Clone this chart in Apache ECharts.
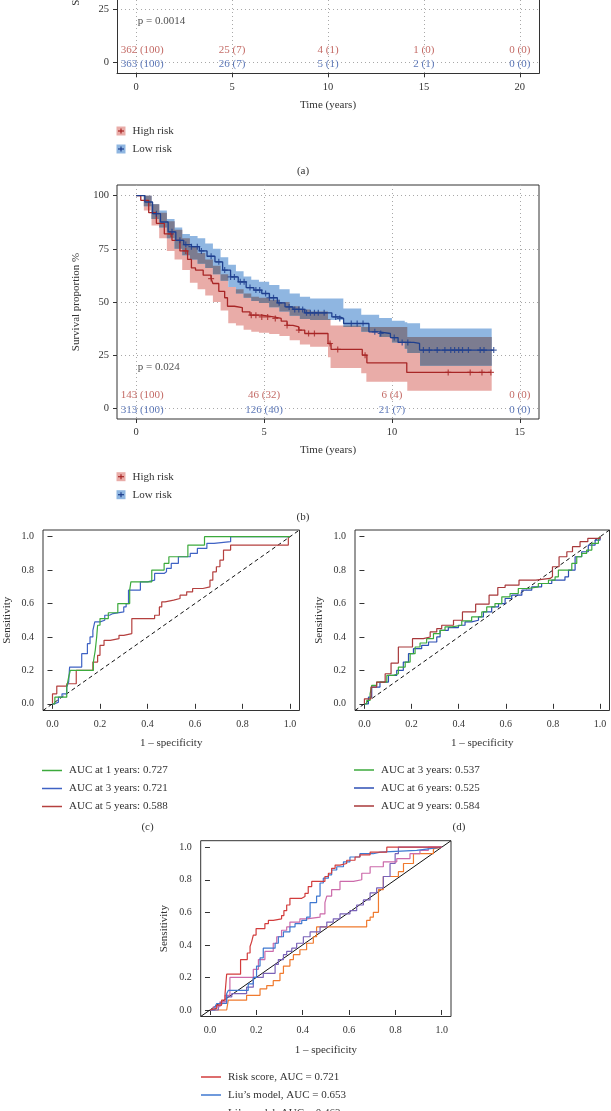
<!DOCTYPE html>
<html><head><meta charset="utf-8">
<script src="https://cdn.jsdelivr.net/npm/echarts@6/dist/echarts.min.js"></script>
<style>html,body{margin:0;padding:0;background:#fff}#c{width:611px;height:1111px}</style>
</head><body><div id="c"></div>
<script>
// ================= DATA =================
// Panel (a) KM
const kmA_ticksX = [0, 5, 10, 15, 20];
const km_ticksY = [0, 25, 50, 75, 100];
const kmA_riskTimes = [0, 5, 10, 15, 20];
const kmA_highN = [362, 25, 4, 1, 0];
const kmA_highPct = [100, 7, 1, 0, 0];
const kmA_lowN = [363, 26, 5, 2, 0];
const kmA_lowPct = [100, 7, 1, 1, 0];
const kmA_p = 'p = 0.0014';

// Panel (b) KM
const kmB_ticksX = [0, 5, 10, 15];
const kmB_riskTimes = [0, 5, 10, 15];
const kmB_highN = [143, 46, 6, 0];
const kmB_highPct = [100, 32, 4, 0];
const kmB_lowN = [313, 126, 21, 0];
const kmB_lowPct = [100, 40, 7, 0];
const kmB_p = 'p = 0.024';

const kmB_highT = [0, 0.18, 0.49, 0.79, 1.1, 1.4, 1.71, 2.01, 2.16, 2.32, 2.62, 2.93, 3.0, 3.23, 3.46, 3.57, 3.84, 4.15, 4.45, 4.91, 5.37, 5.67, 5.9, 6.13, 6.36, 6.59, 7.5, 7.62, 8.84, 9.02, 10.58, 13.87];
const kmB_highS = [100, 97.8, 92, 87, 82, 79, 74, 70, 66, 65, 62.6, 61, 58.7, 55, 52, 48, 47.4, 45.4, 43.8, 43, 42.3, 41, 39, 38.3, 36.8, 35.2, 30.5, 27.7, 25, 21.4, 16.9, 16.9];
const kmB_lowT = [0, 0.34, 0.64, 0.95, 1.25, 1.55, 1.86, 2.16, 2.47, 2.77, 3.08, 3.38, 3.69, 3.99, 4.3, 4.6, 4.91, 5.21, 5.52, 5.82, 6.13, 6.59, 7.65, 7.96, 8.11, 9.1, 9.48, 9.94, 10.24, 10.85, 11.08, 13.98];
const kmB_lowS = [100, 97, 91.5, 87.6, 83, 79, 77, 76, 74, 71.5, 68.9, 65, 61.8, 59.5, 56.8, 55.6, 54, 52, 49.6, 47.7, 46.5, 44.9, 43, 42.3, 39.9, 36, 35.2, 33.3, 31, 30.5, 27.4, 27.4];

const kmB_bandT = [0, 0.3, 0.6, 0.9, 1.2, 1.5, 1.8, 2.1, 2.4, 2.7, 3.0, 3.3, 3.6, 3.9, 4.2, 4.5, 4.8, 5.2, 5.6, 6.0, 6.4, 6.8, 7.2, 7.5, 7.6, 8.1, 8.8, 9.0, 9.5, 10.0, 10.5, 10.6, 11.1, 13.9];
const kmB_highLo = [100, 93, 86, 80, 74, 70, 65, 59, 56, 53, 50, 46, 40, 39, 37, 36, 35.5, 35, 34, 32, 30, 29, 29, 24, 19, 19, 16.5, 12.5, 12.5, 12.5, 12.5, 8.3, 8.3, 8.3];
const kmB_highUp = [100, 100, 96, 92, 88, 84, 80, 76, 73, 70, 67, 63, 57, 56, 54, 52.5, 52, 51, 50, 48, 46.5, 45.5, 45.5, 42, 39, 39, 38.3, 38.3, 38.3, 38.3, 38.3, 33.6, 33.6, 33.6];
const kmB_lowLo = [100, 95, 89, 85, 80, 75, 72, 70, 68, 66, 63, 60, 57, 54, 52, 50.5, 49.5, 47.5, 45.5, 43.5, 42, 41.5, 41.5, 41.5, 41.5, 38.3, 36, 36, 33.6, 31, 28, 26, 20, 20];
const kmB_lowUp = [100, 100, 96, 93, 89, 85, 82, 81, 80, 77.5, 75, 71, 67.5, 64.5, 62, 60.5, 59.5, 58, 56, 54, 52.5, 51.6, 51.6, 51.6, 51.6, 47, 44, 44, 42.5, 41.2, 40.5, 40, 37.6, 37.6];

const kmB_highCens = [1.36, 1.94, 2.93, 4.5, 4.68, 4.91, 5.14, 5.44, 5.9, 6.36, 6.74, 6.97, 7.58, 7.88, 8.95, 12.2, 13.06, 13.52, 13.87];
const kmB_lowCens = [0.79, 1.4, 1.71, 1.94, 2.16, 2.39, 2.55, 2.93, 3.23, 3.46, 3.69, 3.84, 4.07, 4.22, 4.45, 4.68, 4.83, 5.06, 5.21, 5.37, 5.59, 5.98, 6.2, 6.36, 6.51, 6.66, 6.81, 6.97, 7.12, 7.35, 7.8, 7.96, 8.41, 8.64, 8.87, 9.33, 9.56, 10.09, 10.4, 10.62, 11.23, 11.46, 11.77, 12.07, 12.3, 12.45, 12.61, 12.76, 12.99, 13.45, 13.6, 13.98];

// ROC axis
const roc_ticks = [0, 0.2, 0.4, 0.6, 0.8, 1.0];

// Panel (c)
const rocC_names = ['AUC at 1 years: 0.727', 'AUC at 3 years: 0.721', 'AUC at 5 years: 0.588'];
const rocC_1y = [[0,0],[0.01,0.04],[0.06,0.1],[0.068,0.16],[0.075,0.2],[0.172,0.25],[0.18,0.32],[0.186,0.4],[0.19,0.47],[0.2,0.51],[0.235,0.545],[0.275,0.6],[0.325,0.68],[0.33,0.73],[0.418,0.8],[0.47,0.84],[0.49,0.88],[0.57,0.95],[0.64,1.0],[1.0,1.0]];
const rocC_3y = [[0,0],[0.01,0.01],[0.025,0.04],[0.04,0.06],[0.06,0.1],[0.068,0.13],[0.072,0.22],[0.123,0.3],[0.147,0.36],[0.158,0.4],[0.17,0.44],[0.178,0.49],[0.2,0.5],[0.22,0.53],[0.24,0.54],[0.255,0.55],[0.3,0.58],[0.31,0.6],[0.32,0.68],[0.37,0.73],[0.4,0.74],[0.43,0.78],[0.47,0.79],[0.48,0.81],[0.5,0.84],[0.53,0.88],[0.58,0.9],[0.61,0.93],[0.65,0.96],[0.68,0.97],[0.75,1.0],[1.0,1.0]];
const rocC_5y = [[0,0],[0,0.06],[0.018,0.106],[0.06,0.12],[0.1,0.2],[0.17,0.25],[0.19,0.29],[0.2,0.35],[0.217,0.38],[0.243,0.39],[0.28,0.41],[0.3,0.42],[0.334,0.51],[0.43,0.53],[0.45,0.58],[0.46,0.61],[0.474,0.62],[0.51,0.63],[0.537,0.65],[0.565,0.67],[0.59,0.69],[0.633,0.7],[0.663,0.74],[0.675,0.79],[0.69,0.82],[0.705,0.86],[0.72,0.92],[0.75,0.95],[0.993,1.0],[1.0,1.0]];

// Panel (d)
const rocD_names = ['AUC at 3 years: 0.537', 'AUC at 6 years: 0.525', 'AUC at 9 years: 0.584'];
const rocD_3y = [[0,0],[0.01,0.02],[0.024,0.06],[0.031,0.11],[0.052,0.13],[0.095,0.17],[0.123,0.18],[0.144,0.22],[0.173,0.25],[0.194,0.3],[0.215,0.34],[0.236,0.364],[0.264,0.39],[0.293,0.42],[0.321,0.44],[0.342,0.46],[0.371,0.47],[0.413,0.496],[0.455,0.52],[0.498,0.55],[0.519,0.58],[0.554,0.6],[0.583,0.64],[0.618,0.66],[0.653,0.69],[0.696,0.7],[0.738,0.72],[0.781,0.74],[0.809,0.76],[0.823,0.8],[0.88,0.84],[0.901,0.88],[0.922,0.9],[0.943,0.92],[0.965,0.96],[0.993,0.99],[1,1]];
const rocD_6y = [[0,0],[0.017,0.04],[0.031,0.1],[0.066,0.13],[0.102,0.17],[0.137,0.2],[0.165,0.25],[0.187,0.3],[0.208,0.33],[0.243,0.35],[0.272,0.37],[0.307,0.4],[0.321,0.44],[0.356,0.456],[0.399,0.47],[0.427,0.49],[0.455,0.5],[0.484,0.52],[0.505,0.55],[0.54,0.58],[0.569,0.6],[0.597,0.63],[0.625,0.65],[0.668,0.68],[0.71,0.7],[0.752,0.72],[0.795,0.74],[0.851,0.76],[0.866,0.8],[0.894,0.88],[0.922,0.91],[0.95,0.95],[0.979,0.98],[1,1]];
const rocD_9y = [[0,0],[0,0.03],[0.028,0.1],[0.052,0.13],[0.088,0.18],[0.113,0.244],[0.144,0.34],[0.204,0.39],[0.25,0.4],[0.279,0.43],[0.307,0.45],[0.328,0.47],[0.378,0.5],[0.416,0.55],[0.472,0.596],[0.529,0.65],[0.566,0.696],[0.597,0.71],[0.656,0.74],[0.727,0.75],[0.788,0.76],[0.798,0.82],[0.826,0.88],[0.859,0.91],[0.883,0.94],[0.915,0.97],[0.948,0.99],[1,1]];

// Panel (e)
const rocE_names = ['Risk score, AUC = 0.721', "Liu’s model, AUC = 0.653", "Li’s model, AUC = 0.463", 'model 4', 'model 5'];
const rocE_risk = [[0,0],[0.007,0.01],[0.029,0.03],[0.05,0.06],[0.065,0.1],[0.072,0.22],[0.132,0.31],[0.161,0.35],[0.173,0.39],[0.18,0.42],[0.187,0.46],[0.199,0.5],[0.237,0.53],[0.252,0.55],[0.273,0.56],[0.309,0.58],[0.319,0.61],[0.331,0.645],[0.345,0.686],[0.396,0.697],[0.41,0.717],[0.424,0.758],[0.439,0.79],[0.496,0.82],[0.511,0.84],[0.525,0.87],[0.54,0.89],[0.561,0.9],[0.59,0.92],[0.626,0.94],[0.647,0.953],[0.691,0.97],[0.763,1.0],[1,1]];
const rocE_liu = [[0,0],[0.022,0.02],[0.029,0.04],[0.072,0.1],[0.079,0.12],[0.165,0.16],[0.187,0.2],[0.201,0.27],[0.216,0.32],[0.23,0.38],[0.281,0.41],[0.295,0.45],[0.317,0.48],[0.345,0.51],[0.367,0.53],[0.396,0.55],[0.417,0.57],[0.432,0.66],[0.46,0.7],[0.475,0.78],[0.489,0.81],[0.511,0.83],[0.525,0.86],[0.547,0.88],[0.576,0.91],[0.604,0.94],[0.647,0.96],[0.705,0.97],[0.734,0.98],[0.892,0.99],[0.942,1.0],[1,1]];
const rocE_li = [[0,0],[0.072,0.0],[0.079,0.06],[0.158,0.09],[0.216,0.13],[0.245,0.15],[0.273,0.18],[0.302,0.225],[0.317,0.27],[0.345,0.31],[0.36,0.34],[0.388,0.37],[0.417,0.41],[0.446,0.45],[0.46,0.51],[0.676,0.55],[0.691,0.57],[0.705,0.6],[0.727,0.74],[0.748,0.82],[0.813,0.85],[0.835,0.9],[0.878,0.96],[0.964,0.99],[0.971,1.0],[1,1]];
const rocE_m4 = [[0,0],[0.014,0.02],[0.043,0.05],[0.065,0.09],[0.086,0.2],[0.187,0.25],[0.209,0.31],[0.237,0.36],[0.273,0.41],[0.288,0.45],[0.309,0.49],[0.331,0.51],[0.345,0.54],[0.388,0.56],[0.417,0.57],[0.475,0.59],[0.496,0.66],[0.504,0.7],[0.525,0.74],[0.561,0.79],[0.619,0.8],[0.655,0.84],[0.691,0.88],[0.748,0.91],[0.806,0.93],[0.863,0.96],[0.906,0.98],[0.942,1.0],[1,1]];
const rocE_m5 = [[0,0],[0.036,0.0],[0.036,0.03],[0.05,0.05],[0.072,0.08],[0.094,0.1],[0.158,0.14],[0.187,0.2],[0.23,0.225],[0.281,0.28],[0.295,0.31],[0.317,0.34],[0.331,0.36],[0.353,0.38],[0.374,0.41],[0.403,0.45],[0.432,0.48],[0.475,0.51],[0.504,0.54],[0.532,0.56],[0.561,0.59],[0.604,0.61],[0.633,0.645],[0.662,0.676],[0.691,0.72],[0.719,0.75],[0.748,0.82],[0.777,0.9],[0.799,0.96],[0.813,1.0],[1,1]];

// ================= STYLE / BUILD =================
const FONT = "'Liberation Serif','Times New Roman',serif";
const TXT = '#333';
const RED = '#a82626', BLUE = '#1e3f8e';
const RED_BAND = 'rgb(233,172,168)', BLUE_BAND = 'rgb(143,182,225)', BOTH_BAND = 'rgb(124,124,144)';
const RED_TXT = '#b4433d', BLUE_TXT = '#3556a6';
const KM_MIN_Y = -5, KM_MAX_Y = 105, KM_A_VISIBLE_MAX = 29.6;
const ROC_MIN = -0.04, ROC_MAX = 1.04;

const grids = [
  {left: 117, top: 0, width: 422, height: 73.3, show: false},
  {left: 117, top: 185, width: 422, height: 234},
  {left: 43, top: 530, width: 256.5, height: 180.5},
  {left: 355, top: 530, width: 254.5, height: 180.5},
  {left: 200.7, top: 840.7, width: 250.3, height: 175.8}
].map(g => Object.assign({show: true, borderColor: '#333', borderWidth: 1, containLabel: false}, g));

const nameStyle = {fontFamily: FONT, fontSize: 11, color: TXT};

function kmX(gi, ticks, min, max, showLine) {
  return {gridIndex: gi, type: 'value', min, max,
    axisLine: {show: !!showLine, onZero: false, lineStyle: {color: '#333', width: 1}},
    axisTick: {show: true, length: 4, customValues: ticks, lineStyle: {color: '#333'}},
    axisLabel: {customValues: ticks, margin: 8, fontFamily: FONT, fontSize: 10.5, color: TXT, formatter: v => String(v)},
    splitLine: {show: true, lineStyle: {color: '#a8a8a8', type: [1, 3], width: 1}},
    name: 'Time (years)', nameLocation: 'middle', nameGap: 26, nameTextStyle: nameStyle};
}
function kmY(gi, max, showLine, withName) {
  return {gridIndex: gi, type: 'value', min: KM_MIN_Y, max,
    axisLine: {show: !!showLine, onZero: false, lineStyle: {color: '#333', width: 1}},
    axisTick: {show: true, length: 4, customValues: km_ticksY.filter(v => v <= max), lineStyle: {color: '#333'}},
    axisLabel: {customValues: km_ticksY.filter(v => v <= max), margin: 8, fontFamily: FONT, fontSize: 10.5, color: TXT, formatter: v => String(v)},
    splitLine: {show: true, lineStyle: {color: '#a8a8a8', type: [1, 3], width: 1}},
    name: withName ? 'Survival proportion %' : '', nameLocation: 'middle', nameGap: 35, nameRotate: 90, nameTextStyle: nameStyle};
}
function rocX(gi, gap) {
  return {gridIndex: gi, type: 'value', min: ROC_MIN, max: ROC_MAX,
    axisLine: {show: false},
    axisTick: {show: true, length: 5, customValues: roc_ticks, lineStyle: {color: '#333'}},
    axisLabel: {customValues: roc_ticks, margin: 9, fontFamily: FONT, fontSize: 10, color: TXT, formatter: v => v.toFixed(1)},
    splitLine: {show: false},
    name: '1 – specificity', nameLocation: 'middle', nameGap: gap, nameTextStyle: nameStyle};
}
function rocY(gi, gap) {
  return {gridIndex: gi, type: 'value', min: ROC_MIN, max: ROC_MAX,
    axisLine: {show: false},
    axisTick: {show: true, length: 5, customValues: roc_ticks, lineStyle: {color: '#333'}},
    axisLabel: {customValues: roc_ticks, margin: 9, fontFamily: FONT, fontSize: 10, color: TXT, formatter: v => v.toFixed(1)},
    splitLine: {show: false},
    name: 'Sensitivity', nameLocation: 'middle', nameGap: gap, nameRotate: 90, nameTextStyle: nameStyle};
}

const xAxes = [kmX(0, kmA_ticksX, -1, 21, true), kmX(1, kmB_ticksX, -0.75, 15.75, false), rocX(2, 27), rocX(3, 27), rocX(4, 28)];
const yAxes = [kmY(0, KM_A_VISIBLE_MAX, true, false), kmY(1, KM_MAX_Y, false, true), rocY(2, 30), rocY(3, 30), rocY(4, 31),
  // right border of panel (a)
  {gridIndex: 0, type: 'value', position: 'right', min: KM_MIN_Y, max: KM_A_VISIBLE_MAX,
   axisLine: {show: true, onZero: false, lineStyle: {color: '#333', width: 1}}, axisTick: {show: false}, axisLabel: {show: false}, splitLine: {show: false}}];

const series = [];

function survAt(T, S, t) { let v = S[0]; for (let i = 0; i < T.length; i++) { if (T[i] <= t) v = S[i]; else break; } return v; }

function band(gi, T, L, U, color) {
  series.push({type: 'custom', coordinateSystem: 'cartesian2d', xAxisIndex: gi, yAxisIndex: gi,
    data: [[T[0], L[0]]], z: 1, silent: true, animation: false,
    renderItem: function (params, api) {
      const up = [], lo = [];
      for (let i = 0; i < T.length; i++) {
        up.push(api.coord([T[i], U[i]]));
        lo.push(api.coord([T[i], L[i]]));
        if (i < T.length - 1) { up.push(api.coord([T[i + 1], U[i]])); lo.push(api.coord([T[i + 1], L[i]])); }
      }
      return {type: 'polygon', shape: {points: up.concat(lo.reverse())}, style: {fill: color}};
    }});
}
band(1, kmB_bandT, kmB_highLo, kmB_highUp, RED_BAND);
band(1, kmB_bandT, kmB_lowLo, kmB_lowUp, BLUE_BAND);
// overlap of the two confidence bands
const ovLo = kmB_bandT.map((t, i) => Math.max(kmB_highLo[i], kmB_lowLo[i]));
const ovUp = kmB_bandT.map((t, i) => Math.max(ovLo[i], Math.min(kmB_highUp[i], kmB_lowUp[i])));
band(1, kmB_bandT, ovLo, ovUp, BOTH_BAND);

function kmLine(gi, name, T, S, color) {
  series.push({type: 'line', name, xAxisIndex: gi, yAxisIndex: gi, data: T.map((t, i) => [t, S[i]]),
    step: 'end', symbol: 'none', showSymbol: false, lineStyle: {color, width: 1.3}, itemStyle: {color}, z: 3, animation: false});
}
kmLine(1, 'High risk', kmB_highT, kmB_highS, RED);
kmLine(1, 'Low risk', kmB_lowT, kmB_lowS, BLUE);

const PLUS = 'path://M4,0H6V4H10V6H6V10H4V6H0V4H4Z';
function cens(gi, C, T, S, color) {
  series.push({type: 'scatter', xAxisIndex: gi, yAxisIndex: gi, data: C.map(t => [t, survAt(T, S, t)]),
    symbol: PLUS, symbolSize: 6, itemStyle: {color}, z: 4, silent: true, animation: false});
}
cens(1, kmB_highCens, kmB_highT, kmB_highS, RED);
cens(1, kmB_lowCens, kmB_lowT, kmB_lowS, BLUE);

function textSeries(gi, pts, color, position) {
  series.push({type: 'scatter', xAxisIndex: gi, yAxisIndex: gi, data: pts, symbolSize: 1,
    itemStyle: {color: 'rgba(0,0,0,0)'}, silent: true, animation: false, z: 5,
    label: {show: true, position: position || 'inside', distance: 1, formatter: p => p.value[2],
      color, fontFamily: FONT, fontSize: 11}});
}
function riskRows(gi, times, hn, hp, ln, lp) {
  const mk = (n, p, y) => times.map((t, i) => ({value: [t, y, n[i] + ' (' + p[i] + ')'],
    label: i === 0 ? {offset: [6, 0]} : undefined}));
  textSeries(gi, mk(hn, hp, 6), RED_TXT);
  textSeries(gi, mk(ln, lp, -0.8), BLUE_TXT);
}
riskRows(0, kmA_riskTimes, kmA_highN, kmA_highPct, kmA_lowN, kmA_lowPct);
riskRows(1, kmB_riskTimes, kmB_highN, kmB_highPct, kmB_lowN, kmB_lowPct);
textSeries(0, [[0, 19.6, kmA_p]], '#222', 'right');
textSeries(1, [[0, 19.6, kmB_p]], '#222', 'right');

function rocLine(gi, name, pts, color) {
  series.push({type: 'line', name, xAxisIndex: gi, yAxisIndex: gi, data: pts, step: 'end',
    symbol: 'none', showSymbol: false, lineStyle: {color, width: 1.2}, itemStyle: {color}, z: 3, animation: false});
}
function diag(gi, type) {
  series.push({type: 'line', xAxisIndex: gi, yAxisIndex: gi, data: [[ROC_MIN, ROC_MIN], [ROC_MAX, ROC_MAX]],
    symbol: 'none', lineStyle: {color: '#111', width: 1, type}, z: 2, silent: true, animation: false});
}
diag(2, [4, 3]);
rocLine(2, rocC_names[2], rocC_5y, '#b5403f');
rocLine(2, rocC_names[1], rocC_3y, '#3f62c4');
rocLine(2, rocC_names[0], rocC_1y, '#3caa3c');
diag(3, [4, 3]);
rocLine(3, rocD_names[1], rocD_6y, '#2e4fb4');
rocLine(3, rocD_names[0], rocD_3y, '#3caa3c');
rocLine(3, rocD_names[2], rocD_9y, '#a8383a');
diag(4, 'solid');
rocLine(4, rocE_names[2], rocE_li, '#f07a2e');
rocLine(4, rocE_names[4], rocE_m5, '#7a62b8');
rocLine(4, rocE_names[3], rocE_m4, '#cc6aaa');
rocLine(4, rocE_names[1], rocE_liu, '#3f78d0');
rocLine(4, rocE_names[0], rocE_risk, '#d23c3c');

function legendBox(left, top, names, gap) {
  return {data: names, left, top, width: 250, height: 80, orient: 'vertical', padding: 0, icon: 'rect', itemWidth: 20, itemHeight: 1.5, itemGap: gap,
    selectedMode: false, textStyle: {fontFamily: FONT, fontSize: 11, color: TXT, lineHeight: 14, padding: [0, 0, 0, 2]}};
}
const legends = [
  legendBox(42, 763.5, [rocC_names[0], rocC_names[1], rocC_names[2]], 4),
  legendBox(354, 763, [rocD_names[0], rocD_names[1], rocD_names[2]], 4),
  legendBox(201, 1070, [rocE_names[0], rocE_names[1], rocE_names[2]], 4)
];

// KM legends + panel labels (graphic)
const graphics = [];
function kmLegend(y, label, band, line) {
  graphics.push({type: 'rect', shape: {x: 116.5, y: y - 4.5, width: 9, height: 9}, style: {fill: band}, silent: true});
  graphics.push({type: 'line', shape: {x1: 118, y1: y, x2: 124, y2: y}, style: {stroke: line, lineWidth: 1.2}, silent: true});
  graphics.push({type: 'line', shape: {x1: 121, y1: y - 2.5, x2: 121, y2: y + 2.5}, style: {stroke: line, lineWidth: 1.2}, silent: true});
  graphics.push({type: 'text', x: 132.5, y, style: {text: label, fontFamily: FONT, fontSize: 11, fill: TXT, align: 'left', verticalAlign: 'middle'}, silent: true});
}
kmLegend(131, 'High risk', RED_BAND, RED);
kmLegend(149, 'Low risk', BLUE_BAND, BLUE);
kmLegend(476.7, 'High risk', RED_BAND, RED);
kmLegend(494.7, 'Low risk', BLUE_BAND, BLUE);
function panelLabel(x, y, t) {
  graphics.push({type: 'text', x, y, style: {text: t, fontFamily: FONT, fontSize: 11, fill: TXT, align: 'center', verticalAlign: 'middle'}, silent: true});
}
panelLabel(303, 171.5, '(a)');
panelLabel(303, 516.7, '(b)');
panelLabel(147.5, 827, '(c)');
panelLabel(459, 827, '(d)');
// y-axis title of panel (a): its centre lies above the visible area (only its start shows)
graphics.push({type: 'text', x: 76, y: -43.5, rotation: Math.PI / 2,
  style: {text: 'Survival proportion %', fontFamily: FONT, fontSize: 11, fill: TXT, align: 'center', verticalAlign: 'middle'}, silent: true});

const chart = echarts.init(document.getElementById('c'), null, {renderer: 'canvas'});
chart.setOption({
  backgroundColor: '#fff',
  animation: false,
  grid: grids,
  xAxis: xAxes,
  yAxis: yAxes,
  legend: legends,
  series,
  graphic: graphics
});
</script>
</body></html>
